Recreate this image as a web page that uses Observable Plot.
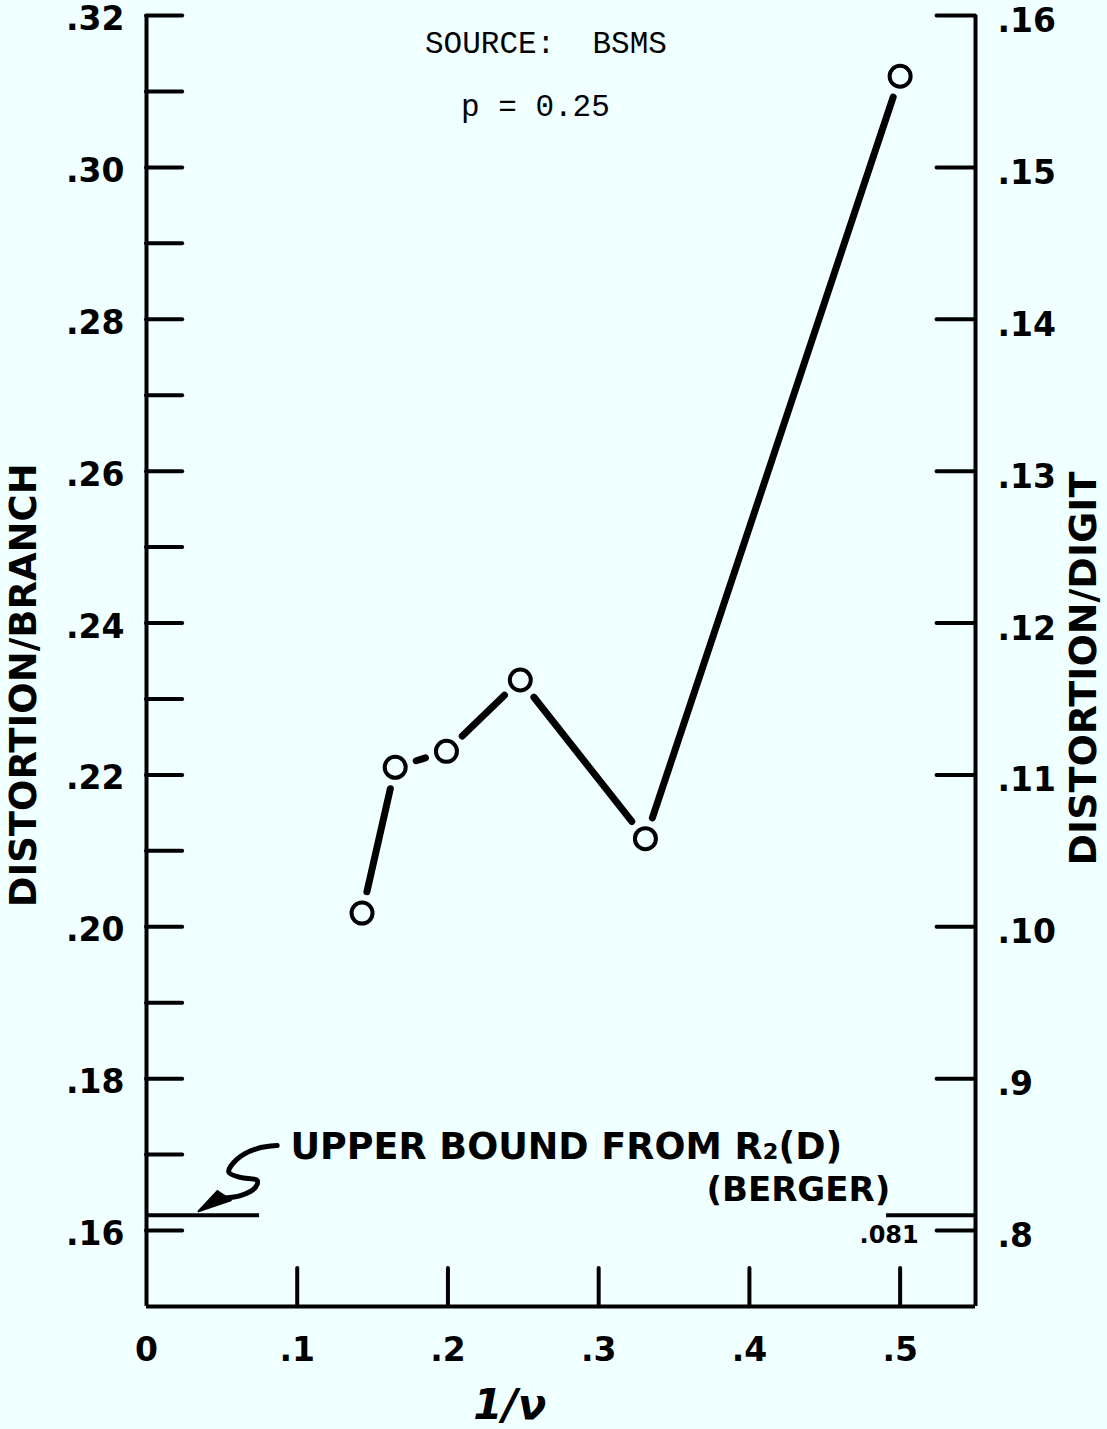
<!DOCTYPE html>
<html>
<head>
<meta charset="utf-8">
<script src="https://cdn.jsdelivr.net/npm/d3@7"></script>
<script src="https://cdn.jsdelivr.net/npm/@observablehq/plot@0.6"></script>
<style>
  html, body { margin: 0; padding: 0; background: #f0ffff; }
  #chart svg { display: block; }
</style>
</head>
<body>
<div id="chart"></div>
<script>
// ---- data ----
const invNu = [0.143, 0.165, 0.199, 0.248, 0.331, 0.5];               // 1/ν
const distortionPerBranch = [0.2018, 0.2210, 0.2231, 0.2325, 0.2116, 0.3120];

const upperBound = 0.162;                  // R2(D) (Berger), per branch
const upperBoundPerDigit = ".081";

// ---- ticks ----
const xLabelValues = [0, 0.1, 0.2, 0.3, 0.4, 0.5];
const xLabels = ["0", ".1", ".2", ".3", ".4", ".5"];
const xTickValues = [0.1, 0.2, 0.3, 0.4, 0.5];

const leftTickValues = [0.16, 0.17, 0.18, 0.19, 0.20, 0.21, 0.22, 0.23, 0.24, 0.25, 0.26, 0.27, 0.28, 0.29, 0.30, 0.31, 0.32];
const leftLabelValues = [0.16, 0.18, 0.20, 0.22, 0.24, 0.26, 0.28, 0.30, 0.32];
const leftLabels = [".16", ".18", ".20", ".22", ".24", ".26", ".28", ".30", ".32"];
const rightLabels = [".8", ".9", ".10", ".11", ".12", ".13", ".14", ".15", ".16"];

const xDomain = [0, 0.55];
const yDomain = [0.15, 0.32];

const points = invNu.map((x, i) => ({x, y: distortionPerBranch[i]}));
const segments = points.slice(1).map((p, i) => ({x1: points[i].x, y1: points[i].y, x2: p.x, y2: p.y}));

// hand-drawn squiggle pointing at the bound line (annotation, data units)
const squiggle = [
  {x: 0.0867, y: 0.1712}, {x: 0.0734, y: 0.1708}, {x: 0.0601, y: 0.1694},
  {x: 0.0546, y: 0.1677}, {x: 0.0623, y: 0.1670}, {x: 0.0734, y: 0.1666},
  {x: 0.0723, y: 0.1657}, {x: 0.0623, y: 0.1646}, {x: 0.0520, y: 0.1643}
];
const wedge = [
  {x: 0.0470, y: 0.1652}, {x: 0.0345, y: 0.16255}, {x: 0.0560, y: 0.1640}, {x: 0.0470, y: 0.1652}
];

const sans = "DejaVu Sans, Verdana, sans-serif";
const mono = "Liberation Mono, DejaVu Sans Mono, monospace";
const ink = "#000";

const chart = Plot.plot({
  width: 1107,
  height: 1429,
  marginLeft: 146,
  marginRight: 132,
  marginTop: 15,
  marginBottom: 123,
  x: {domain: xDomain, axis: null},
  y: {domain: yDomain, axis: null},
  style: {background: "#f0ffff", color: ink, fontFamily: sans},
  marks: [
    // frame: left, right, bottom
    Plot.ruleX([xDomain[0]], {y1: yDomain[0], y2: yDomain[1], stroke: ink, strokeWidth: 4}),
    Plot.ruleX([xDomain[1]], {y1: yDomain[0], y2: yDomain[1], stroke: ink, strokeWidth: 4}),
    Plot.ruleY([yDomain[0]], {x1: xDomain[0], x2: xDomain[1], stroke: ink, strokeWidth: 4}),
    // inward ticks
    Plot.ruleY(leftTickValues, {y: d => d, x1: xDomain[0], x2: 0.024, stroke: ink, strokeWidth: 4, strokeLinecap: "round"}),
    Plot.ruleY(leftLabelValues, {y: d => d, x1: 0.5245, x2: xDomain[1], stroke: ink, strokeWidth: 4, strokeLinecap: "round"}),
    Plot.ruleX(xTickValues, {x: d => d, y1: yDomain[0], y2: 0.155, stroke: ink, strokeWidth: 4, strokeLinecap: "round"}),
    // tick labels
    Plot.text(leftLabelValues, {y: d => d, text: (d, i) => leftLabels[i], frameAnchor: "left", textAnchor: "end", lineAnchor: "middle", dx: -22, dy: 4, fontSize: 33, fontWeight: "bold", fill: ink}),
    Plot.text(leftLabelValues, {y: d => d, text: (d, i) => rightLabels[i], frameAnchor: "right", textAnchor: "start", lineAnchor: "middle", dx: 22, dy: 6, fontSize: 33, fontWeight: "bold", fill: ink}),
    Plot.text(xLabelValues, {x: d => d, text: (d, i) => xLabels[i], frameAnchor: "bottom", lineAnchor: "middle", dy: 44, fontSize: 33, fontWeight: "bold", fill: ink}),
    // axis titles
    Plot.text(["DISTORTION/BRANCH"], {text: d => d, x: -0.081, y: 0.2318, rotate: -90, lineAnchor: "middle", fontSize: 37, fontWeight: "bold", fill: ink}),
    Plot.text(["DISTORTION/DIGIT"], {text: d => d, x: 0.6217, y: 0.234, rotate: -90, lineAnchor: "middle", fontSize: 38, fontWeight: "bold", fill: ink}),
    Plot.text(["1/\u03bd"], {text: d => d, x: 0.241, frameAnchor: "bottom", lineAnchor: "middle", dy: 99, fontSize: 42, fontWeight: "bold", fontStyle: "italic", fill: ink}),
    // header notes
    Plot.text(["SOURCE:\u00a0\u00a0BSMS"], {text: d => d, x: 0.265, frameAnchor: "top", lineAnchor: "middle", dy: 28, fontSize: 31, fontFamily: mono, fill: ink}),
    Plot.text(["p = 0.25"], {text: d => d, x: 0.258, frameAnchor: "top", lineAnchor: "middle", dy: 91, fontSize: 31, fontFamily: mono, fill: ink}),
    // upper bound annotation
    Plot.ruleY([upperBound], {x1: xDomain[0], x2: 0.075, stroke: ink, strokeWidth: 4}),
    Plot.ruleY([upperBound], {x1: 0.491, x2: xDomain[1], stroke: ink, strokeWidth: 4}),
    Plot.text([upperBoundPerDigit], {text: d => d, x: 0.4927, y: upperBound, dy: 20, lineAnchor: "middle", fontSize: 24, fontWeight: "bold", fill: ink}),
    Plot.text(["UPPER BOUND FROM R\u2082(D)"], {text: d => d, x: 0.0955, y: 0.1709, textAnchor: "start", lineAnchor: "middle", fontSize: 36.5, fontWeight: "bold", fill: ink}),
    Plot.text(["(BERGER)"], {text: d => d, x: 0.4934, y: 0.1653, textAnchor: "end", lineAnchor: "middle", fontSize: 34, fontWeight: "bold", fill: ink}),
    Plot.line(squiggle, {x: "x", y: "y", curve: "catmull-rom", stroke: ink, strokeWidth: 5, strokeLinecap: "round"}),
    Plot.line(wedge, {x: "x", y: "y", fill: ink, stroke: ink, strokeWidth: 2}),
    // data
    Plot.arrow(segments, {x1: "x1", y1: "y1", x2: "x2", y2: "y2", headLength: 0, insetStart: 22, insetEnd: 22, stroke: ink, strokeWidth: 7, strokeLinecap: "round"}),
    Plot.dot(points, {x: "x", y: "y", r: 10.5, stroke: ink, strokeWidth: 4, fill: "none"})
  ]
});

document.getElementById("chart").appendChild(chart);
</script>
</body>
</html>
